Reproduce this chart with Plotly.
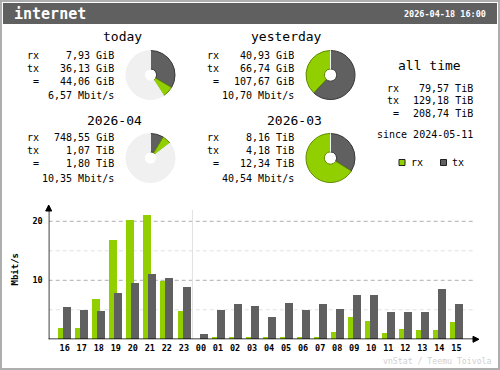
import plotly.graph_objects as go

# ---------------- data ----------------
interface_name = "internet"
timestamp = "2026-04-18 16:00"
periods = ["today", "yesterday", "2026-04", "2026-03"]
rx_vals = [7.93, 40.93, 748.55, 8.16]
rx_units = ["GiB", "GiB", "GiB", "TiB"]
tx_vals = [36.13, 66.74, 1.07, 4.18]
tx_units = ["GiB", "GiB", "TiB", "TiB"]
tot_vals = [44.06, 107.67, 1.80, 12.34]
tot_units = ["GiB", "GiB", "TiB", "TiB"]
rates = [6.57, 10.70, 10.35, 40.54]

alltime_rx = 79.57
alltime_tx = 129.18
alltime_tot = 208.74
alltime_unit = "TiB"
since = "2024-05-11"

hours = ["16", "17", "18", "19", "20", "21", "22", "23", "00", "01", "02", "03",
         "04", "05", "06", "07", "08", "09", "10", "11", "12", "13", "14", "15"]
rx_rate = [2.0, 2.0, 6.9, 16.9, 20.3, 21.1, 9.8, 4.85, 0.0, 0.45, 0.45, 0.45,
           0.45, 0.45, 0.45, 0.45, 1.3, 3.8, 3.15, 1.1, 1.8, 1.6, 1.6, 3.0]
tx_rate = [5.5, 5.0, 4.85, 7.9, 9.6, 11.1, 10.45, 8.9, 0.95, 5.0, 5.9, 5.7,
           3.85, 6.2, 5.0, 5.9, 5.2, 7.55, 7.55, 4.7, 4.7, 4.7, 8.6, 5.9]
y_ticks = [10, 20]

# ---------------- style ----------------
W, H = 500, 370
C_RX = "#92CF00"
C_TX = "#606060"
C_RX_EDGE = "#5E8A00"
C_TX_EDGE = "#383838"
C_EMPTY = "#F0F0F0"
C_EDGE = "#AEAEAE"
C_LINE = "#B0B0B0"
C_LINE_L = "#E2E2E2"
MONO = "DejaVu Sans Mono"


def px(x):
    return x / W


def py(y):
    return 1 - y / H


def fmt(v):
    return f"{v:.2f}".replace(".", ",")


def to_gib(v, u):
    return v * 1024 if u == "TiB" else v


fig = go.Figure()
shapes = []
ann = []

# frame and header
shapes.append(dict(type="rect", xref="paper", yref="paper", x0=px(1), x1=px(499), y0=py(369), y1=py(1),
                   line=dict(color=C_EDGE, width=2), fillcolor="rgba(0,0,0,0)", layer="below"))
shapes.append(dict(type="rect", xref="paper", yref="paper", x0=px(3), x1=px(497), y0=py(24), y1=py(3),
                   line=dict(width=0), fillcolor=C_TX, layer="below"))
ann.append(dict(x=px(12), y=py(14), text=interface_name, xanchor="left", yanchor="middle",
                font=dict(family=MONO, size=15, color="white", weight="bold")))
ann.append(dict(x=px(488), y=py(14), text=timestamp, xanchor="right", yanchor="middle",
                font=dict(family=MONO, size=8.5, color="white", weight="bold")))

# summary blocks
blocks = [  # (x offset, header y, row ys, pie center)
    (0, 37, [55, 68, 81, 95.5], (150.5, 75)),
    (180, 37, [55, 68, 81, 95.5], (330.5, 75)),
    (0, 120, [137.5, 150.5, 163.5, 178], (150.5, 158)),
    (180, 120, [137.5, 150.5, 163.5, 178], (330.5, 158)),
]
header_cx = [122, 286, 114, 294]
TXT = dict(family=MONO, size=10, color="black")
for i, (dx, hy, rows, (cx, cy)) in enumerate(blocks):
    ann.append(dict(x=px(header_cx[i]), y=py(hy), text=periods[i], xanchor="center", yanchor="middle",
                    font=dict(family=MONO, size=13, color="black")))
    labels = ["rx", "tx", "="]
    vals = [f"{fmt(rx_vals[i])} {rx_units[i]}", f"{fmt(tx_vals[i])} {tx_units[i]}",
            f"{fmt(tot_vals[i])} {tot_units[i]}"]
    for j in range(3):
        lx = 25 + dx if j < 2 else 31 + dx
        ann.append(dict(x=px(lx), y=py(rows[j]), text=labels[j], xanchor="left", yanchor="middle", font=TXT))
        ann.append(dict(x=px(116 + dx), y=py(rows[j]), text=vals[j], xanchor="right", yanchor="middle", font=TXT))
    ann.append(dict(x=px(116 + dx), y=py(rows[3]), text=f"{fmt(rates[i])} Mbit/s", xanchor="right",
                    yanchor="middle", font=TXT))

    # pie: reference is the larger total of the pair
    pair = [0, 1] if i < 2 else [2, 3]
    ref = max(to_gib(tot_vals[k], tot_units[k]) for k in pair)
    tx_g = to_gib(tx_vals[i], tx_units[i])
    rx_g = to_gib(rx_vals[i], rx_units[i])
    rest = max(ref - tx_g - rx_g, 0)
    r = 24.5
    fig.add_trace(go.Pie(
        values=[tx_g, rx_g, rest], sort=False, direction="clockwise", rotation=0, hole=0.25,
        marker=dict(colors=[C_TX, C_RX, C_EMPTY], line=dict(color=[C_TX_EDGE, C_RX_EDGE, C_EMPTY], width=1)),
        textinfo="none", hoverinfo="skip", showlegend=False,
        domain=dict(x=[px(cx - r), px(cx + r)], y=[py(cy + r), py(cy - r)]),
    ))

# all time
ann.append(dict(x=px(429), y=py(65), text="all time", xanchor="center", yanchor="middle",
                font=dict(family=MONO, size=13, color="black")))
at_rows = [88, 100.5, 114]
at_labels = ["rx", "tx", "="]
at_vals = [alltime_rx, alltime_tx, alltime_tot]
for j in range(3):
    lx = 385 if j < 2 else 391
    ann.append(dict(x=px(lx), y=py(at_rows[j]), text=at_labels[j], xanchor="left", yanchor="middle", font=TXT))
    ann.append(dict(x=px(475), y=py(at_rows[j]), text=f"{fmt(at_vals[j])} {alltime_unit}", xanchor="right",
                    yanchor="middle", font=TXT))
ann.append(dict(x=px(475), y=py(134), text=f"since {since}", xanchor="right", yanchor="middle", font=TXT))

# legend
for (sx, col, lab) in [(399, C_RX, "rx"), (440.5, C_TX, "tx")]:
    shapes.append(dict(type="rect", xref="paper", yref="paper", x0=px(sx), x1=px(sx + 6), y0=py(165.5),
                       y1=py(159.5), fillcolor=col, line=dict(color="#202020", width=1)))
    ann.append(dict(x=px(sx + 9.5), y=py(162.5), text=lab, xanchor="left", yanchor="middle", font=TXT))

# ---------------- hourly bars ----------------
xs = list(range(len(hours)))
SLOT = 17.03
bw = 8 / SLOT
fig.add_trace(go.Bar(x=xs, y=rx_rate, width=bw, offset=-6.7 / SLOT, marker=dict(color=C_RX, line=dict(width=0)),
                     showlegend=False, hoverinfo="skip"))
fig.add_trace(go.Bar(x=xs, y=tx_rate, width=bw, offset=-1.7 / SLOT, marker=dict(color=C_TX, line=dict(width=0)),
                     showlegend=False, hoverinfo="skip"))

ax_left_px, ax_right_px = 48.7, 479
x0_px = 64.7
xmin = -(x0_px - ax_left_px) / SLOT
xmax = (ax_right_px - x0_px) / SLOT
y0_px, ytop_px = 339.3, 205
ppu = 118 / 20
ymax = (y0_px - ytop_px) / ppu

grid_end = (472.7 - x0_px) / SLOT
for v in [5, 10, 15, 20]:
    shapes.append(dict(type="line", xref="x", yref="y", x0=xmin, x1=grid_end, y0=v, y1=v, layer="below",
                       line=dict(color=C_LINE if v % 10 == 0 else C_LINE_L, width=1, dash="4px,3px")))
# day separator
shapes.append(dict(type="line", xref="x", yref="y", x0=7.5, x1=7.5, y0=0, y1=(y0_px - 210) / ppu, layer="below",
                   line=dict(color="#E0E0E0", width=1)))
# axes lines
shapes.append(dict(type="line", xref="x", yref="y", x0=xmin - 4.4 / SLOT, x1=xmax - 3 / SLOT, y0=0, y1=0,
                   line=dict(color="black", width=1.5)))
shapes.append(dict(type="line", xref="x", yref="y", x0=xmin, x1=xmin, y0=-3.7 / ppu, y1=ymax - 2 / ppu,
                   line=dict(color="black", width=1.5)))
# arrow heads
shapes.append(dict(type="path", xref="paper", yref="paper",
                   path=f"M {px(479)},{py(339.3)} L {px(473)},{py(336.3)} L {px(473)},{py(342.3)} Z",
                   fillcolor="black", line=dict(color="black", width=1)))
shapes.append(dict(type="path", xref="paper", yref="paper",
                   path=f"M {px(48.7)},{py(205)} L {px(45.7)},{py(211)} L {px(51.7)},{py(211)} Z",
                   fillcolor="black", line=dict(color="black", width=1)))

ann.append(dict(x=px(14.5), y=py(269), text="Mbit/s", textangle=-90, xanchor="center", yanchor="middle",
                font=dict(family=MONO, size=9, color="black", weight="bold")))
ann.append(dict(x=px(494), y=py(361), text="vnStat / Teemu Toivola", xanchor="right", yanchor="middle",
                font=dict(family=MONO, size=8.2, color="#D0D0D0")))

for a in ann:
    a.setdefault("xref", "paper")
    a.setdefault("yref", "paper")
    a["showarrow"] = False

fig.update_layout(
    width=W, height=H, margin=dict(l=0, r=0, t=0, b=0),
    paper_bgcolor="white", plot_bgcolor="rgba(0,0,0,0)",
    barmode="overlay", bargap=0,
    shapes=shapes, annotations=ann,
    xaxis=dict(domain=[px(ax_left_px), px(ax_right_px)], range=[xmin, xmax], showgrid=False, zeroline=False,
               showline=False, tickmode="array", tickvals=xs, ticktext=hours, ticks="",
               tickfont=dict(family=MONO, size=8.5, color="black", weight="bold"), ticklabelstandoff=2,
               fixedrange=True),
    yaxis=dict(domain=[py(y0_px), py(ytop_px)], range=[0, ymax], showgrid=False, zeroline=False,
               showline=False, tickmode="array", tickvals=y_ticks, ticks="",
               tickfont=dict(family=MONO, size=8.5, color="black", weight="bold"), ticklabelstandoff=5,
               fixedrange=True),
)
fig.write_html("out.html", config={"displayModeBar": False},
               post_script="document.body.style.margin='0';document.body.style.overflow='hidden';")
